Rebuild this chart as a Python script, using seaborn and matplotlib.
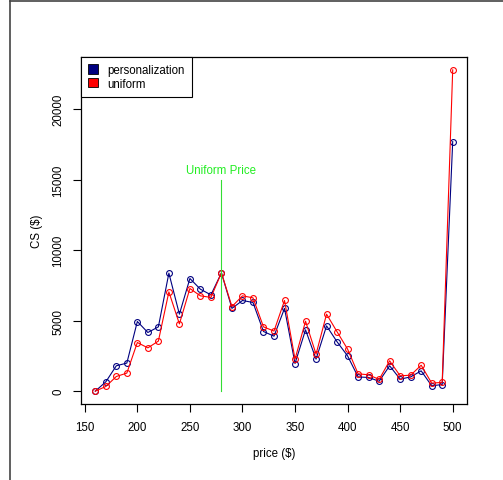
import matplotlib
matplotlib.use("Agg")
import matplotlib.pyplot as plt
import seaborn as sns
import pandas as pd
from matplotlib.patches import Patch
from matplotlib.lines import Line2D

price = list(range(160, 501, 10))
cs_personal = [0, 660, 1800, 1990, 4940, 4160, 4560, 8370, 5460, 7990,
               7230, 6830, 8390, 5870, 6430, 6290, 4230, 3900, 5870, 1960,
               4350, 2270, 4630, 3500, 2500, 1010, 970, 700, 1800, 850,
               1010, 1440, 380, 470, 17700]
cs_uniform = [0, 330, 1040, 1280, 3450, 3070, 3550, 7040, 4770, 7280,
              6760, 6650, 8390, 6000, 6760, 6620, 4560, 4260, 6430, 2270,
              4960, 2620, 5460, 4210, 2980, 1230, 1160, 830, 2150, 1090,
              1130, 1840, 570, 620, 22790]
uniform_price = 280
series_names = ["personalization", "uniform"]
series_colors = ["#000080", "#FF0000"]

df = pd.DataFrame({"price": price, "personalization": cs_personal, "uniform": cs_uniform})

plt.rcParams["font.family"] = ["Liberation Sans", "DejaVu Sans"]
plt.rcParams["font.size"] = 8.3

fig = plt.figure(figsize=(5.03, 4.81), dpi=100)
ax = fig.add_axes([81 / 503, 76 / 481, 386 / 503, 347 / 481])

for name, col in zip(series_names, series_colors):
    sns.lineplot(data=df, x="price", y=name, ax=ax, color=col, lw=0.8,
                 marker="o", markersize=4.2, markerfacecolor="none",
                 markeredgecolor=col, markeredgewidth=0.8)

ax.plot([uniform_price, uniform_price], [0, 15000], color="#33DD33", lw=0.8)
ax.text(uniform_price, 15700, "Uniform Price", color="#22EE22",
        ha="center", va="center", fontsize=8.3)

xmin, xmax = min(price), max(price)
pad = (xmax - xmin) * 0.04
ax.set_xlim(xmin - pad, xmax + pad)
ymax = max(max(cs_personal), max(cs_uniform))
ax.set_ylim(-ymax * 0.04, ymax * 1.04)
ax.set_xticks(range(150, 501, 50))
ax.set_yticks(range(0, 20001, 5000))
ax.set_yticklabels([str(v) for v in range(0, 20001, 5000)], rotation=90, va="center")
ax.tick_params(direction="out", length=6, width=0.8, color="black", pad=6)
ax.set_xlabel("price ($)", labelpad=10)
ax.set_ylabel("CS ($)", labelpad=7)
for s in ax.spines.values():
    s.set_color("black")
    s.set_linewidth(0.9)

handles = [Patch(facecolor=c, edgecolor="black", lw=0.6) for c in series_colors]
leg = ax.legend(handles, series_names, loc="upper left", bbox_to_anchor=(0, 1),
                borderaxespad=0, fancybox=False, edgecolor="black",
                framealpha=1, handlelength=0.9, handleheight=0.9,
                handletextpad=0.8, borderpad=0.6, labelspacing=0.15)
leg.get_frame().set_linewidth(0.8)

fig.add_artist(Line2D([10 / 503, 10 / 503], [0, 1 - 2 / 481], color="#444444", lw=1.2,
                      transform=fig.transFigure))
fig.add_artist(Line2D([10 / 503, 1], [1 - 2 / 481, 1 - 2 / 481], color="#444444", lw=1.2,
                      transform=fig.transFigure))

fig.savefig("out.png", dpi=100)
